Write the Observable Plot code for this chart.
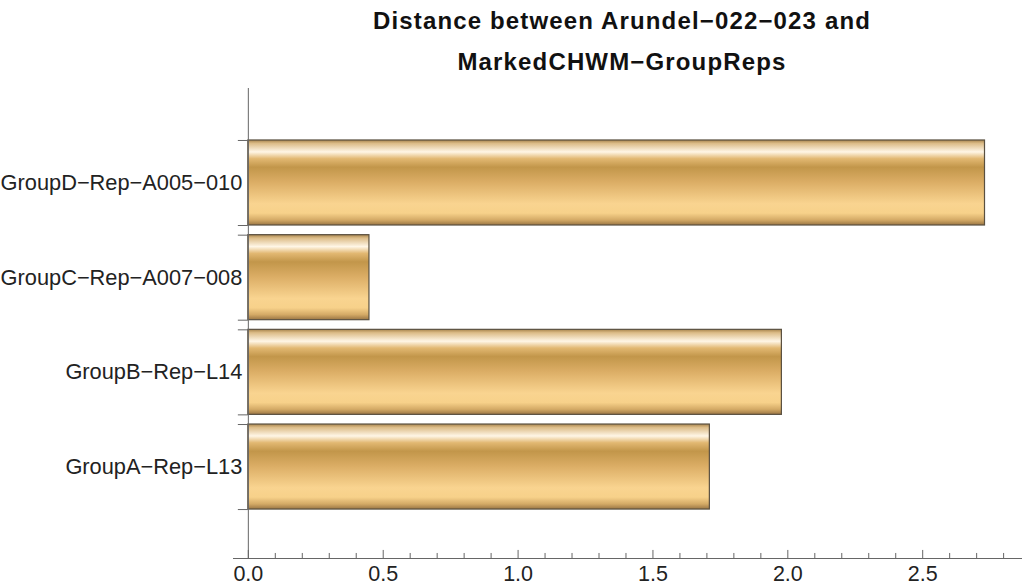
<!DOCTYPE html>
<html>
<head>
<meta charset="utf-8">
<script src="https://cdn.jsdelivr.net/npm/d3@7"></script>
<script src="https://cdn.jsdelivr.net/npm/@observablehq/plot@0.6"></script>
<style>
  body { margin: 0; background: #fff; }
  #title { width: 804px; padding-left: 220px; height: 80px; text-align: center;
    font: bold 24px "Liberation Sans", Arial, sans-serif; letter-spacing: 1.15px; line-height: 41px; color: #111; }
  #chart svg { display: block; }
</style>
</head>
<body>
<div id="title">Distance between Arundel−022−023 and<br>MarkedCHWM−GroupReps</div>
<div id="chart"></div>
<script>
const names = ["GroupA−Rep−L13", "GroupB−Rep−L14", "GroupC−Rep−A007−008", "GroupD−Rep−A005−010"];
const values = [1.711, 1.978, 0.449, 2.731];
const xMajor = [0, 0.5, 1.0, 1.5, 2.0, 2.5];
const xMinor = [0.1, 0.2, 0.3, 0.4, 0.6, 0.7, 0.8, 0.9, 1.1, 1.2, 1.3, 1.4, 1.6, 1.7, 1.8, 1.9, 2.1, 2.2, 2.3, 2.4, 2.6, 2.7, 2.8];

const half = 0.449;
const yMin = -0.966, yMax = 3.998;
const rows = names.map((n, i) => ({name: n, value: values[i], pos: i}));
const edges = rows.flatMap(d => [d.pos - half, d.pos + half]);

const axisColor = "#666";
const font = "Liberation Sans, Arial, sans-serif";

const svg = Plot.plot({
  width: 1024,
  height: 507,
  marginTop: 8,
  marginBottom: 29,
  marginLeft: 233,
  marginRight: 2,
  style: {fontFamily: font, fontSize: "22px", color: "#222", background: "#fff"},
  x: {domain: [-0.055, 2.87], axis: null},
  y: {domain: [yMin, yMax], axis: null},
  marks: [
    Plot.rectX(rows, {x1: 0, x2: "value", y1: d => d.pos - half, y2: d => d.pos + half,
      fill: "url(#gold)", stroke: "#5a5040", strokeWidth: 1.2}),
    Plot.ruleX([0], {stroke: axisColor, strokeWidth: 1}),
    Plot.ruleY([yMin], {stroke: axisColor, strokeWidth: 1.2}),
    Plot.ruleY(edges, {y: d => d, x1: -0.037, x2: 0, stroke: axisColor, strokeWidth: 1}),
    Plot.ruleX(xMajor, {x: d => d, y1: yMin, y2: yMin + 0.085, stroke: axisColor, strokeWidth: 1}),
    Plot.ruleX(xMinor, {x: d => d, y1: yMin, y2: yMin + 0.053, stroke: axisColor, strokeWidth: 1}),
    Plot.text(rows, {x: 0, y: "pos", text: "name", textAnchor: "end", dx: -6, fill: "#222", fontSize: 21.8}),
    Plot.text(xMajor, {x: d => d, y: yMin, text: d => d3.format(".1f")(d), dy: 16, fill: "#222", fontSize: 21.5})
  ]
});

const grad = d3.select(svg).insert("defs", ":first-child")
  .append("linearGradient").attr("id", "gold")
  .attr("x1", 0).attr("y1", 0).attr("x2", 0).attr("y2", 1);
[
  [0, "#a8844c"], [0.04, "#dcbc88"], [0.14, "#fff6e6"], [0.22, "#e2b872"],
  [0.32, "#c2964a"], [0.5, "#dcae66"], [0.75, "#f9d490"], [0.86, "#f7d18a"],
  [0.94, "#d4aa66"], [1, "#9a7644"]
].forEach(([o, c]) => grad.append("stop").attr("offset", o).attr("stop-color", c));

document.getElementById("chart").appendChild(svg);
</script>
</body>
</html>
